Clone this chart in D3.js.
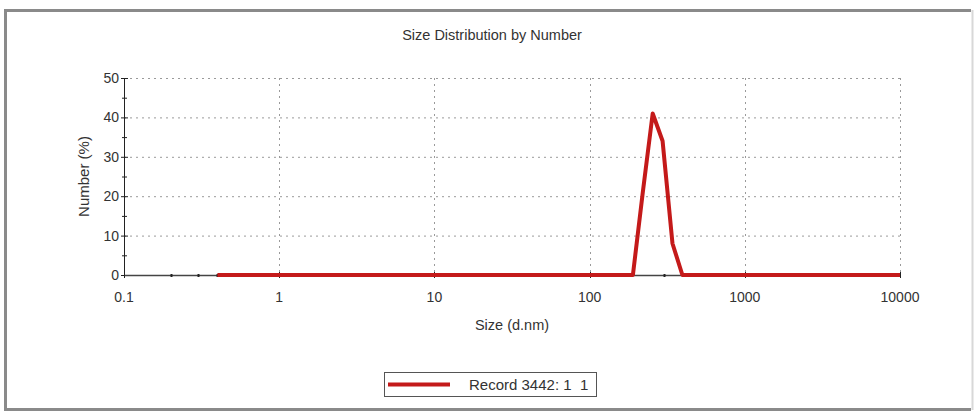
<!DOCTYPE html>
<html>
<head>
<meta charset="utf-8">
<script src="https://cdn.jsdelivr.net/npm/d3@7"></script>
<style>
    body { margin: 0; background: #fff; }
    svg text { font-family: "Liberation Sans", Arial, sans-serif; fill: #333; }
</style>
</head>
<body>
<div id="chart"></div>
<script>
// size bins (d.nm) and number (%)
const sizes = [0.4, 164.2, 190.1, 220.2, 255.0, 295.3, 342.0, 396.1, 458.7, 10000];
const numbers = [0, 0, 0, 21, 41, 34, 8, 0, 0, 0];
const xTicks = [0.1, 1, 10, 100, 1000, 10000];
const yTicks = [0, 10, 20, 30, 40, 50];
const yMinorTicks = [5, 15, 25, 35, 45];
const xMinorTicks = [0.2, 0.3, 0.4, 300];
const title = "Size Distribution by Number";
const legendLabel = "Record 3442: 1  1";

const width = 976;
const height = 412;
const plot = {left: 124, right: 900, top: 78, bottom: 275};

const svg = d3.select("#chart")
    .append("svg")
    .attr("width", width)
    .attr("height", height);

// outer frame: heavy grey on top/left/bottom, faint on the right
svg.append("path")
    .attr("d", "M971,10.5 H5.5 V409.5 H971")
    .attr("fill", "none")
    .attr("stroke", "#8a8a8a")
    .attr("stroke-width", 3);
svg.append("line")
    .attr("x1", 972.5).attr("x2", 972.5)
    .attr("y1", 10).attr("y2", 410)
    .attr("stroke", "#d8d8d8")
    .attr("stroke-width", 2);

const x = d3.scaleLog()
    .domain([0.1, 10000])
    .range([plot.left, plot.right]);

const y = d3.scaleLinear()
    .domain([0, 50])
    .range([plot.bottom, plot.top]);

// grid
svg.append("g")
    .selectAll("line")
    .data(yTicks.filter(d => d > 0))
    .join("line")
    .attr("x1", plot.left).attr("x2", plot.right)
    .attr("y1", d => y(d) + 0.5).attr("y2", d => y(d) + 0.5)
    .attr("stroke", "#9a9a9a")
    .attr("stroke-dasharray", "2,4");

svg.append("g")
    .selectAll("line")
    .data(xTicks.filter(d => d > 0.1))
    .join("line")
    .attr("x1", d => Math.round(x(d)) + 0.5).attr("x2", d => Math.round(x(d)) + 0.5)
    .attr("y1", plot.top).attr("y2", plot.bottom)
    .attr("stroke", "#9a9a9a")
    .attr("stroke-dasharray", "2,4");

// y axis
const yAxis = svg.append("g");
yAxis.append("line")
    .attr("x1", plot.left + 0.5).attr("x2", plot.left + 0.5)
    .attr("y1", plot.top).attr("y2", plot.bottom)
    .attr("stroke", "#222");
yAxis.selectAll(".major")
    .data(yTicks)
    .join("line")
    .attr("class", "major")
    .attr("x1", plot.left - 3).attr("x2", plot.left + 4)
    .attr("y1", d => y(d) + 0.5).attr("y2", d => y(d) + 0.5)
    .attr("stroke", "#222");
yAxis.selectAll(".minor")
    .data(yMinorTicks)
    .join("line")
    .attr("class", "minor")
    .attr("x1", plot.left - 2).attr("x2", plot.left + 3)
    .attr("y1", d => y(d) + 0.5).attr("y2", d => y(d) + 0.5)
    .attr("stroke", "#222");
yAxis.selectAll("text")
    .data(yTicks)
    .join("text")
    .attr("x", plot.left - 5)
    .attr("y", d => y(d))
    .attr("dy", "0.35em")
    .attr("text-anchor", "end")
    .attr("font-size", 14)
    .text(d => d);

// x axis
const xAxis = svg.append("g");
xAxis.append("line")
    .attr("x1", plot.left).attr("x2", plot.right)
    .attr("y1", plot.bottom + 0.5).attr("y2", plot.bottom + 0.5)
    .attr("stroke", "#444")
    .attr("stroke-width", 1.5);
xAxis.selectAll(".major")
    .data(xTicks)
    .join("line")
    .attr("class", "major")
    .attr("x1", d => Math.round(x(d)) + 0.5).attr("x2", d => Math.round(x(d)) + 0.5)
    .attr("y1", plot.bottom - 3).attr("y2", plot.bottom + 3)
    .attr("stroke", "#222");
xAxis.selectAll(".minor")
    .data(xMinorTicks)
    .join("line")
    .attr("class", "minor")
    .attr("x1", d => Math.round(x(d)) + 0.5).attr("x2", d => Math.round(x(d)) + 0.5)
    .attr("y1", plot.bottom - 1).attr("y2", plot.bottom + 2)
    .attr("stroke", "#222")
    .attr("stroke-width", 2);
xAxis.selectAll("text")
    .data(xTicks)
    .join("text")
    .attr("x", d => x(d))
    .attr("y", plot.bottom + 27)
    .attr("text-anchor", "middle")
    .attr("font-size", 14)
    .text(d => d);

// series
const line = d3.line()
    .x((d, i) => x(sizes[i]))
    .y(d => y(d));

svg.append("path")
    .datum(numbers)
    .attr("d", line)
    .attr("fill", "none")
    .attr("stroke", "#c41a1a")
    .attr("stroke-width", 4)
    .attr("stroke-linejoin", "round");

// titles
svg.append("text")
    .attr("x", 492).attr("y", 40)
    .attr("text-anchor", "middle")
    .attr("font-size", 14.5)
    .text(title);

svg.append("text")
    .attr("x", 512).attr("y", 330)
    .attr("text-anchor", "middle")
    .attr("font-size", 14.5)
    .text("Size (d.nm)");

svg.append("text")
    .attr("transform", `translate(89,${(plot.top + plot.bottom) / 2}) rotate(-90)`)
    .attr("text-anchor", "middle")
    .attr("font-size", 15)
    .text("Number (%)");

// legend
const legend = svg.append("g").attr("transform", "translate(384,372)");
legend.append("rect")
    .attr("x", 0.5).attr("y", 0.5)
    .attr("width", 212).attr("height", 24)
    .attr("fill", "#fff")
    .attr("stroke", "#555");
legend.append("line")
    .attr("x1", 4).attr("x2", 66)
    .attr("y1", 12.5).attr("y2", 12.5)
    .attr("stroke", "#c41a1a")
    .attr("stroke-width", 4);
legend.append("text")
    .attr("x", 85).attr("y", 18)
    .attr("font-size", 15)
    .style("white-space", "pre")
    .text(legendLabel);
</script>
</body>
</html>
